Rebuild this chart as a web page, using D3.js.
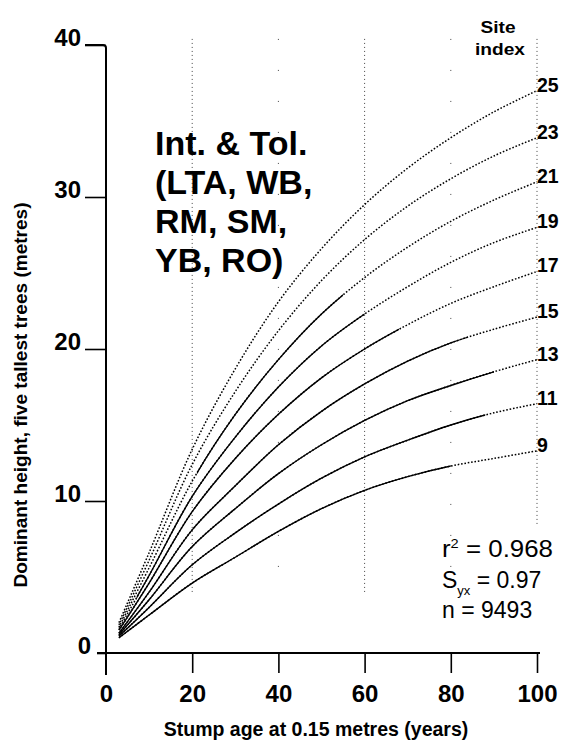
<!DOCTYPE html>
<html>
<head>
<meta charset="utf-8">
<script src="https://cdn.jsdelivr.net/npm/d3@7"></script>
<style>
  body { margin: 0; background: #fff; }
  text { font-family: "Liberation Sans", Arial, sans-serif; }
</style>
</head>
<body>
<div id="chart"></div>
<script>
// stump age (years) at which the curves were read
var ages = [3, 10, 20, 30, 40, 50, 60, 70, 80, 90, 100];
var siteIndex = [9, 11, 13, 15, 17, 19, 21, 23, 25];
// dominant height (m) per site index
var h9  = [1.0, 2.5, 4.6, 6.3, 8.0, 9.5, 10.7, 11.6, 12.3, 12.8, 13.3];
var h11 = [1.1, 3.0, 5.8, 7.9, 9.8, 11.5, 12.9, 14.0, 15.0, 15.8, 16.4];
var h13 = [1.2, 3.5, 7.0, 9.5, 11.8, 13.7, 15.3, 16.6, 17.6, 18.5, 19.3];
var h15 = [1.3, 4.0, 8.1, 11.0, 13.7, 15.9, 17.7, 19.2, 20.4, 21.3, 22.1];
var h17 = [1.5, 4.6, 9.3, 12.8, 15.7, 18.1, 20.0, 21.6, 23.0, 24.1, 25.1];
var h19 = [1.6, 5.1, 10.3, 14.2, 17.5, 20.2, 22.3, 24.1, 25.7, 27.0, 28.0];
var h21 = [1.7, 5.6, 11.3, 15.7, 19.3, 22.3, 24.7, 26.7, 28.4, 29.8, 31.0];
var h23 = [1.85, 6.1, 12.4, 17.2, 21.2, 24.5, 27.2, 29.4, 31.2, 32.7, 33.9];
var h25 = [2.0, 6.6, 13.4, 18.7, 23.1, 26.6, 29.5, 31.9, 33.9, 35.6, 37.0];
var heights = [h9, h11, h13, h15, h17, h19, h21, h23, h25];
// age range drawn solid (data range); outside it the curve is dotted
var solidFrom = [3, 3, 3, 3, 3, 8, 22, null, null];
var solidTo   = [80, 88, 90, 84, 68, 60, 55, null, null];

var xTicks = [0, 20, 40, 60, 80, 100];
var yTicks = [0, 10, 20, 30, 40];
var gridAges = [20, 40, 60, 80, 100];

var width = 564, height = 745;

var svg = d3.select("#chart")
    .append("svg")
    .attr("width", width)
    .attr("height", height);

var x = d3.scaleLinear().domain([0, 100]).range([106, 537]);
var y = d3.scaleLinear().domain([0, 40]).range([653, 45]);

// dotted verticals
svg.selectAll(".grid")
    .data(gridAges)
    .enter()
    .append("line")
    .attr("x1", function (d) { return x(d); })
    .attr("x2", function (d) { return x(d); })
    .attr("y1", y(40.4))
    .attr("y2", function (d) { return d == 100 ? y(8.3) : y(4); })
    .attr("stroke", "#444")
    .attr("stroke-width", 1)
    .attr("stroke-dasharray", function (d) { return (d == 40 || d == 80) ? "1,30" : "1,3"; });

// curves
var line = d3.line()
    .x(function (d) { return x(d[0]); })
    .y(function (d) { return y(d[1]); })
    .curve(d3.curveCatmullRom.alpha(0.5));

var defs = svg.append("defs");
var curves = svg.append("g");

heights.forEach(function (hs, i) {
    var pts = ages.map(function (a, j) { return [a, hs[j]]; });

    curves.append("path")
        .attr("d", line(pts))
        .attr("fill", "none")
        .attr("stroke", "#000")
        .attr("stroke-width", 1.5)
        .attr("stroke-dasharray", "1.6,1.8");

    if (solidFrom[i] != null) {
        defs.append("clipPath")
            .attr("id", "clip" + i)
            .append("rect")
            .attr("x", x(solidFrom[i]) - 4)
            .attr("y", 0)
            .attr("width", x(solidTo[i]) - x(solidFrom[i]) + 4)
            .attr("height", height);

        curves.append("path")
            .attr("d", line(pts))
            .attr("fill", "none")
            .attr("stroke", "#000")
            .attr("stroke-width", 1.4)
            .attr("clip-path", "url(#clip" + i + ")");
    }

    svg.append("text")
        .attr("x", x(100))
        .attr("y", y(hs[hs.length - 1]) + 1)
        .attr("font-size", 19.5)
        .attr("font-weight", "bold")
        .text(siteIndex[i]);
});

// axes
svg.append("path")
    .attr("d", "M" + (x(0) - 21) + "," + y(40) + "H" + (x(0) - 3) +
        "Q" + x(0) + "," + y(40) + " " + x(0) + "," + (y(40) + 3) + "V" + (y(0) + 22))
    .attr("fill", "none")
    .attr("stroke", "#000")
    .attr("stroke-width", 2);

svg.append("line")
    .attr("x1", x(0) - 9).attr("x2", x(100) + 3)
    .attr("y1", y(0)).attr("y2", y(0))
    .attr("stroke", "#000")
    .attr("stroke-width", 2);

var yAxis = svg.append("g")
    .attr("transform", "translate(" + x(0) + ",0)")
    .call(d3.axisLeft(y).tickValues(yTicks).tickSize(21).tickPadding(4));
yAxis.select(".domain").remove();
yAxis.selectAll(".tick line")
    .attr("stroke-width", 1.6)
    .attr("x2", function (d) { return d == 0 ? -9 : -21; });
yAxis.selectAll(".tick text")
    .attr("dy", 0)
    .attr("x", function (d) { return d == 0 ? -15 : -25; })
    .attr("font-size", 24)
    .attr("font-weight", "bold")
    .attr("font-family", "Liberation Sans, Arial, sans-serif")
    .attr("fill", "#000");

var xAxis = svg.append("g")
    .attr("transform", "translate(0," + y(0) + ")")
    .call(d3.axisBottom(x).tickValues(xTicks).tickSize(20).tickPadding(4));
xAxis.select(".domain").remove();
xAxis.selectAll(".tick line")
    .attr("stroke-width", 1.6)
    .attr("opacity", function (d) { return d == 0 ? 0 : 1; });
xAxis.selectAll(".tick text")
    .attr("dy", 0)
    .attr("y", 49)
    .attr("font-size", 24)
    .attr("font-weight", "bold")
    .attr("font-family", "Liberation Sans, Arial, sans-serif")
    .attr("fill", "#000");

// axis titles
svg.append("text")
    .attr("x", 316)
    .attr("y", 736)
    .attr("text-anchor", "middle")
    .attr("font-size", 19.5)
    .attr("font-weight", "bold")
    .text("Stump age at 0.15 metres (years)");

svg.append("text")
    .attr("transform", "translate(27,395) rotate(-90)")
    .attr("text-anchor", "middle")
    .attr("font-size", 18.5)
    .attr("font-weight", "bold")
    .attr("textLength", 385)
    .attr("lengthAdjust", "spacingAndGlyphs")
    .text("Dominant height, five tallest trees (metres)");

// species group label
var titleLines = ["Int. & Tol.", "(LTA, WB,", "RM, SM,", "YB, RO)"];
svg.selectAll(".title")
    .data(titleLines)
    .enter()
    .append("text")
    .attr("x", 155)
    .attr("y", function (d, i) { return 155 + i * 39; })
    .attr("font-size", 34)
    .attr("font-weight", "bold")
    .text(function (d) { return d; });

// legend header
svg.append("text")
    .attr("x", 498).attr("y", 33)
    .attr("text-anchor", "middle")
    .attr("font-size", 16.5).attr("font-weight", "bold")
    .attr("textLength", 35).attr("lengthAdjust", "spacingAndGlyphs")
    .text("Site");
svg.append("text")
    .attr("x", 500).attr("y", 55)
    .attr("text-anchor", "middle")
    .attr("font-size", 16.5).attr("font-weight", "bold")
    .attr("textLength", 50).attr("lengthAdjust", "spacingAndGlyphs")
    .text("index");

// fit statistics
var stats = svg.append("g").attr("font-size", 23);
var r2 = stats.append("text").attr("x", 442).attr("y", 557)
    .attr("textLength", 111).attr("lengthAdjust", "spacingAndGlyphs");
r2.append("tspan").text("r");
r2.append("tspan").attr("font-size", 13).attr("dy", -9).text("2");
r2.append("tspan").attr("dy", 9).text(" = 0.968");

var syx = stats.append("text").attr("x", 442).attr("y", 588);
syx.append("tspan").text("S");
syx.append("tspan").attr("font-size", 13).attr("dy", 7).text("yx");
syx.append("tspan").attr("dy", -7).text(" = 0.97");

stats.append("text").attr("x", 442).attr("y", 618).text("n = 9493");
</script>
</body>
</html>
